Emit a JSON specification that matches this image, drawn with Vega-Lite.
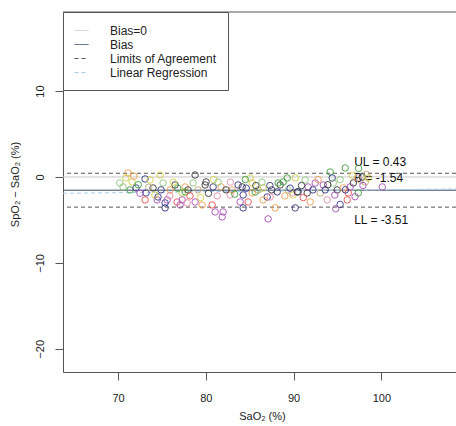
{
  "$schema": "https://vega.github.io/schema/vega-lite/v6.json",
  "width": 393,
  "height": 360,
  "autosize": {"type": "none"},
  "padding": {"left": 63, "top": 12, "right": 0, "bottom": 54},
  "background": "white",
  "config": {
    "view": {"stroke": null},
    "font": "Liberation Sans",
    "axis": {"grid": false, "domainColor": "#555", "tickColor": "#555", "tickSize": 8, "labelFontSize": 11, "labelColor": "#222", "titleFontSize": 11, "titleFontWeight": "normal", "titleColor": "#222", "labelFont": "Liberation Sans", "titleFont": "Liberation Sans"},
    "legend": {"labelFont": "Liberation Sans"}
  },
  "datasets": {
    "hlines": [
      {"k": "Bias=0", "y": 0},
      {"k": "Limits of Agreement", "y": 0.43},
      {"k": "Limits of Agreement", "y": -3.51},
      {"k": "Bias", "y": -1.54}
    ],
    "reg": [{"k": "Linear Regression", "x": 63.73, "y": -1.9, "x2": 108.5, "y2": -1.4}],
    "frame": [{"y": 19.2}],
    "labels": [
      {"x": 96.9, "y": 1.75, "t": "UL = 0.43"},
      {"x": 96.9, "y": -0.1, "t": "B = -1.54"},
      {"x": 96.9, "y": -5.0, "t": "LL = -3.51"}
    ],
    "pts": [
      {"x":71.14,"y":0.47,"s":"o"},{"x":71.6,"y":-0.58,"s":"y"},{"x":70.57,"y":-1.16,"s":"lg"},{"x":71.37,"y":-1.51,"s":"g"},
      {"x":72.05,"y":-1.28,"s":"n"},{"x":73.08,"y":-0.23,"s":"n"},{"x":73.19,"y":-1.86,"s":"n"},{"x":73.65,"y":-0.35,"s":"y"},
      {"x":73.99,"y":-1.28,"s":"k"},{"x":74.79,"y":0.23,"s":"y"},{"x":75.13,"y":-0.7,"s":"lg"},{"x":73.08,"y":-2.67,"s":"r"},
      {"x":74.45,"y":-2.67,"s":"p"},{"x":74.56,"y":-2.33,"s":"n"},{"x":75.36,"y":-3.02,"s":"n"},{"x":75.59,"y":-2.67,"s":"p"},
      {"x":75.36,"y":-3.6,"s":"n"},{"x":75.93,"y":-1.51,"s":"o"},{"x":76.5,"y":-0.93,"s":"k"},{"x":76.73,"y":-2.91,"s":"r"},
      {"x":77.07,"y":-3.26,"s":"p"},{"x":77.3,"y":-1.86,"s":"y"},{"x":77.64,"y":-1.16,"s":"o"},{"x":77.98,"y":-1.51,"s":"k"},
      {"x":78.78,"y":0.23,"s":"k"},{"x":78.55,"y":-0.7,"s":"lg"},{"x":80.03,"y":-0.58,"s":"k"},{"x":79.92,"y":-0.93,"s":"k"},
      {"x":80.83,"y":-1.16,"s":"n"},{"x":81.74,"y":-1.16,"s":"o"},{"x":77.64,"y":-1.74,"s":"g"},{"x":77.3,"y":-2.67,"s":"p"},
      {"x":77.87,"y":-3.02,"s":"pk"},{"x":78.78,"y":-2.91,"s":"p"},{"x":79.58,"y":-3.26,"s":"o"},{"x":80.72,"y":-3.26,"s":"r"},
      {"x":81.06,"y":-4.07,"s":"p"},{"x":81.86,"y":-4.65,"s":"p"},{"x":81.97,"y":-4.07,"s":"p"},{"x":82.77,"y":-2.09,"s":"pk"},
      {"x":83.0,"y":-1.51,"s":"o"},{"x":83.68,"y":-0.93,"s":"n"},{"x":84.14,"y":-1.16,"s":"k"},{"x":84.25,"y":-2.09,"s":"n"},
      {"x":83.91,"y":-2.91,"s":"p"},{"x":84.25,"y":-3.6,"s":"n"},{"x":84.82,"y":-2.91,"s":"r"},{"x":85.28,"y":-1.86,"s":"o"},
      {"x":85.05,"y":-0.12,"s":"y"},{"x":85.96,"y":-1.51,"s":"t"},{"x":86.99,"y":-2.33,"s":"n"},{"x":87.1,"y":-4.88,"s":"p"},
      {"x":87.9,"y":-3.6,"s":"o"},{"x":88.13,"y":-1.74,"s":"n"},{"x":88.47,"y":-0.93,"s":"k"},{"x":88.81,"y":-0.58,"s":"g"},
      {"x":89.27,"y":-0.12,"s":"g"},{"x":89.38,"y":-1.51,"s":"lg"},{"x":89.95,"y":-2.09,"s":"y"},{"x":90.52,"y":-1.74,"s":"n"},
      {"x":90.18,"y":-3.6,"s":"n"},{"x":91.32,"y":-0.35,"s":"lg"},{"x":91.55,"y":-1.86,"s":"k"},{"x":85.28,"y":-0.7,"s":"y"},
      {"x":85.62,"y":-1.74,"s":"g"},{"x":86.53,"y":-1.28,"s":"y"},{"x":86.53,"y":-2.67,"s":"o"},{"x":87.33,"y":-2.33,"s":"pk"},
      {"x":88.24,"y":-0.7,"s":"g"},{"x":89.84,"y":-1.86,"s":"pk"},{"x":90.41,"y":-1.74,"s":"k"},{"x":91.89,"y":-2.91,"s":"o"},
      {"x":91.66,"y":-1.16,"s":"p"},{"x":92.46,"y":-0.7,"s":"p"},{"x":93.03,"y":-1.86,"s":"t"},{"x":93.38,"y":-0.93,"s":"p"},
      {"x":93.83,"y":-2.67,"s":"pk"},{"x":94.17,"y":0.58,"s":"g"},{"x":94.4,"y":-0.12,"s":"n"},{"x":94.52,"y":-0.7,"s":"lg"},
      {"x":94.97,"y":-1.51,"s":"k"},{"x":95.66,"y":-1.28,"s":"o"},{"x":95.88,"y":1.05,"s":"g"},{"x":96.11,"y":-2.67,"s":"r"},
      {"x":96.23,"y":-1.86,"s":"r"},{"x":96.45,"y":-1.16,"s":"p"},{"x":96.8,"y":-0.7,"s":"k"},{"x":97.25,"y":-0.12,"s":"pk"},
      {"x":97.37,"y":-1.86,"s":"g"},{"x":97.59,"y":-0.35,"s":"t"},{"x":97.82,"y":0.0,"s":"k"},{"x":98.16,"y":-0.58,"s":"t"},
      {"x":98.51,"y":-0.12,"s":"y"},{"x":100.1,"y":-1.16,"s":"p"},
      {"x":70.2,"y":-0.7,"s":"lg"},{"x":70.9,"y":-0.1,"s":"y"},{"x":71.8,"y":0.1,"s":"o"},{"x":72.3,"y":-0.9,"s":"g"},
      {"x":72.5,"y":-1.9,"s":"p"},{"x":73.5,"y":-1.2,"s":"t"},{"x":74.2,"y":-2.1,"s":"y"},{"x":74.9,"y":-1.5,"s":"n"},
      {"x":75.9,"y":-2.2,"s":"pk"},{"x":76.3,"y":-0.6,"s":"y"},{"x":76.8,"y":-1.3,"s":"g"},{"x":78.2,"y":-2.2,"s":"r"},
      {"x":79.1,"y":-1.5,"s":"t"},{"x":79.4,"y":-2.4,"s":"y"},{"x":80.3,"y":-1.9,"s":"k"},{"x":81.3,"y":-2.2,"s":"pk"},
      {"x":82.3,"y":-1.5,"s":"k"},{"x":83.3,"y":-2.0,"s":"g"},{"x":84.6,"y":-1.3,"s":"n"},{"x":85.7,"y":-1.0,"s":"k"},
      {"x":86.4,"y":-0.6,"s":"lg"},{"x":87.5,"y":-1.5,"s":"k"},{"x":89.0,"y":-2.2,"s":"o"},{"x":89.6,"y":-1.3,"s":"n"},
      {"x":90.9,"y":-1.0,"s":"k"},{"x":91.1,"y":-2.4,"s":"r"},{"x":92.2,"y":-1.5,"s":"n"},{"x":92.8,"y":-0.3,"s":"o"},
      {"x":93.6,"y":-1.5,"s":"n"},{"x":93.9,"y":-0.9,"s":"k"},{"x":94.7,"y":-2.1,"s":"p"},{"x":95.3,"y":-0.3,"s":"lg"},
      {"x":95.9,"y":-1.5,"s":"n"},{"x":96.7,"y":0.2,"s":"y"},{"x":97.0,"y":-2.3,"s":"p"},{"x":97.9,"y":-1.0,"s":"p"},
      {"x":98.3,"y":0.3,"s":"t"},{"x":95.3,"y":-3.2,"s":"n"},{"x":94.8,"y":-3.7,"s":"p"},{"x":82.8,"y":-0.6,"s":"pk"},
      {"x":80.9,"y":-0.3,"s":"y"},{"x":81.4,"y":-0.6,"s":"lg"},{"x":87.3,"y":-1.0,"s":"n"},{"x":90.2,"y":-0.1,"s":"y"},
      {"x":84.5,"y":-0.3,"s":"g"},{"x":97.4,"y":1.0,"s":"g"}
    ]
  },
  "layer": [
    {
      "data": {"name": "frame"},
      "mark": {"type": "rule", "color": "#555", "strokeWidth": 1},
      "encoding": {"y": {"field": "y", "type": "quantitative"}}
    },
    {
      "data": {"name": "hlines"},
      "mark": {"type": "rule", "strokeWidth": 1},
      "encoding": {
        "y": {"field": "y", "type": "quantitative", "scale": {"domain": [-22.7, 19.2], "nice": false, "zero": false},
          "axis": {"values": [-20, -10, 0, 10], "title": "SpO₂ − SaO₂ (%)", "labelAngle": -90, "labelAlign": "center", "labelBaseline": "bottom", "labelPadding": 10, "titleX": -48, "titleY": 172, "titleAngle": -90, "titleAlign": "center", "titleBaseline": "middle"}},
        "color": {"field": "k", "type": "nominal",
          "scale": {"domain": ["Bias=0", "Bias", "Limits of Agreement", "Linear Regression"], "range": ["#c8c8c8", "#3c4a66", "#555555", "#a8cce8"]},
          "legend": {"title": null, "orient": "none", "legendX": 0, "legendY": 0, "direction": "vertical", "strokeColor": "#555", "fillColor": "white", "padding": 11, "symbolType": "stroke", "symbolSize": 196, "symbolStrokeWidth": 1, "labelFontSize": 12, "labelColor": "#222", "labelOffset": 21, "rowPadding": 0, "cornerRadius": 0}},
        "strokeDash": {"field": "k", "type": "nominal",
          "scale": {"domain": ["Bias=0", "Bias", "Limits of Agreement", "Linear Regression"], "range": [[1, 0], [1, 0], [4, 3], [4, 3]]},
          "legend": {"title": null, "orient": "none", "legendX": 0, "legendY": 0}}
      }
    },
    {
      "data": {"name": "reg"},
      "mark": {"type": "rule", "strokeWidth": 1},
      "encoding": {
        "x": {"field": "x", "type": "quantitative"},
        "x2": {"field": "x2"},
        "y": {"field": "y", "type": "quantitative"},
        "y2": {"field": "y2"},
        "color": {"field": "k", "type": "nominal"},
        "strokeDash": {"field": "k", "type": "nominal"}
      }
    },
    {
      "data": {"name": "labels"},
      "mark": {"type": "text", "align": "left", "baseline": "middle", "fontSize": 12, "color": "#111"},
      "encoding": {
        "x": {"field": "x", "type": "quantitative"},
        "y": {"field": "y", "type": "quantitative"},
        "text": {"field": "t"}
      }
    },
    {
      "data": {"name": "pts"},
      "mark": {"type": "point", "shape": "circle", "filled": false, "size": 42, "strokeWidth": 1, "opacity": 0.9},
      "encoding": {
        "x": {"field": "x", "type": "quantitative", "scale": {"domain": [63.73, 108.5], "nice": false, "zero": false},
          "axis": {"values": [70, 80, 90, 100], "title": "SaO₂ (%)", "labelPadding": 12, "titleX": 199, "titleY": 44, "titleBaseline": "middle"}},
        "y": {"field": "y", "type": "quantitative"},
        "stroke": {"field": "s", "type": "nominal", "legend": null,
          "scale": {"domain": ["g", "y", "o", "r", "p", "n", "k", "lg", "pk", "t"], "range": ["#40a040", "#d0d048", "#f0a050", "#e85050", "#a850b8", "#343488", "#383838", "#90c880", "#e890a8", "#c0a878"]}}
      }
    }
  ]
}
